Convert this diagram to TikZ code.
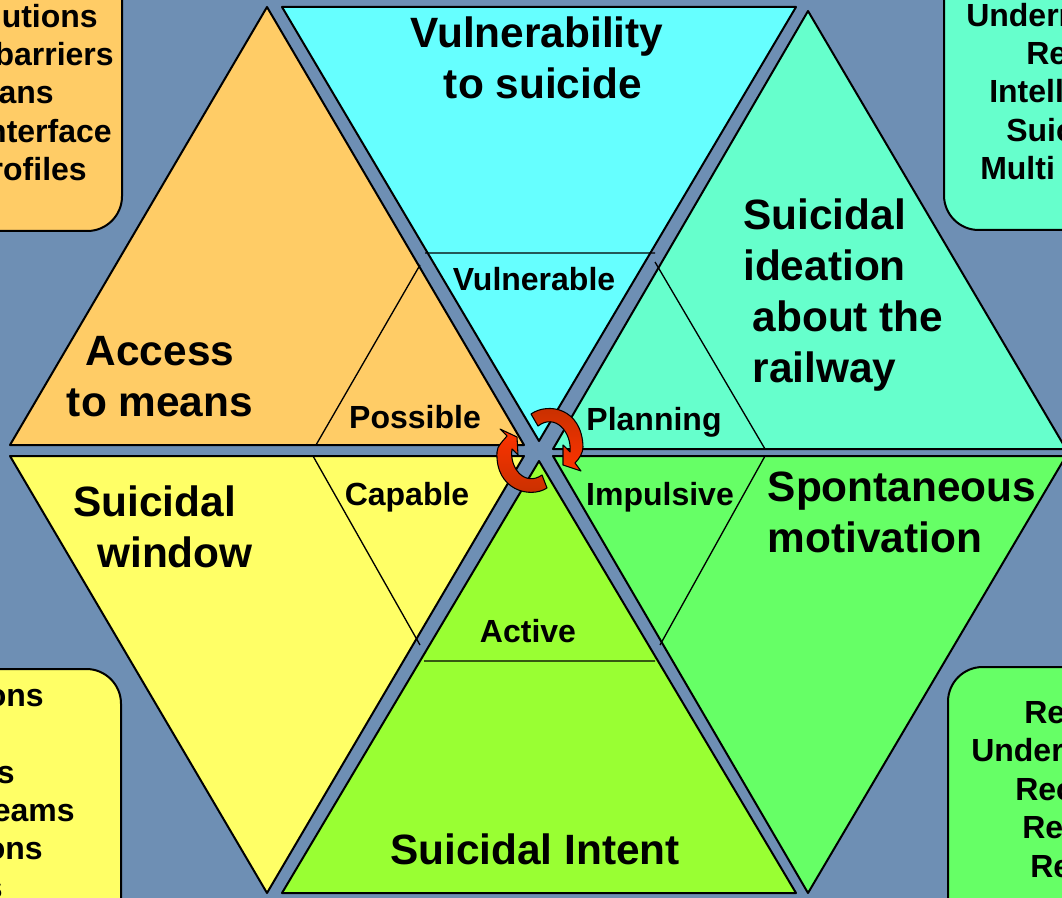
\documentclass[tikz,border=0pt]{standalone}
\usepackage{fontspec}
\setmainfont{Liberation Sans}
\definecolor{bgblue}{HTML}{6E8FB4}
\definecolor{meansc}{HTML}{FFCC66}
\definecolor{vulnc}{HTML}{66FFFF}
\definecolor{ideac}{HTML}{66FFCC}
\definecolor{windowc}{HTML}{FFFF66}
\definecolor{intentc}{HTML}{99FF33}
\definecolor{spontc}{HTML}{66FF66}
\definecolor{cyclec}{HTML}{FF3300}
\definecolor{cycledark}{HTML}{C43000}
\begin{document}
\begin{tikzpicture}
[x = .75pt, y = -.75pt, line join = round,
 tri/.style = {draw, line width = 1.5pt},
 box/.style = {draw, line width = 1.5pt, rounded corners = 26pt},
 big/.style = {font = \fontsize{31.8}{38.2}\bfseries, align = left, inner sep = 0pt},
 small/.style = {font = \fontsize{24}{29}\bfseries},
 side/.style = {font = \fontsize{24}{29}\bfseries, inner sep = 0pt},
 cycle/.style = {draw, line width = .8pt}]
\useasboundingbox (0,0) rectangle (1062,898);
\fill[bgblue] (0,0) rectangle (1062,898);
% side boxes
\draw[box, fill = meansc] (-60,-40) rectangle (122,231);
\draw[box, fill = ideac] (944,-40) rectangle (1120,230);
\draw[box, fill = windowc] (-60,669) rectangle (121,940);
\draw[box, fill = spontc] (948,667) rectangle (1120,940);
% triangles
\draw[tri, fill = meansc] (267,7) -- (524,445) -- (10,445) -- cycle;
\draw[tri, fill = vulnc] (282,7) -- (796,7) -- (539,441) -- cycle;
\draw[tri, fill = ideac] (808,11) -- (1066,449) -- (553,449) -- cycle;
\draw[tri, fill = windowc] (10,456) -- (524,456) -- (267,893) -- cycle;
\draw[tri, fill = intentc] (539,461) -- (796,893) -- (282,893) -- cycle;
\draw[tri, fill = spontc] (553,456) -- (1066,456) -- (808,893) -- cycle;
% inner lines
\draw[line width = 1pt] (420,265) -- (316,445) (425,253) -- (655,253) (655,262) -- (765,449)
      (313,456) -- (420,645) (424,661) -- (655,661) (765,456) -- (660,645);
% turning arrows
\draw[cycle, top color = cycledark, middle color = cyclec, bottom color = cyclec]
      (531,414) .. controls (548,402) and (582,408) .. (583,447)
      .. controls (583,453) and (579,459) .. (575,463) -- (581,471) -- (563,465) -- (563,445)
      -- (570,452) .. controls (572,432) and (555,413) .. (538,426) -- cycle;
\draw[cycle, top color = cyclec, middle color = cyclec, bottom color = cycledark]
      (547,488) .. controls (530,499) and (495,490) .. (497,452)
      .. controls (497,446) and (503,441) .. (507,436) -- (500,429) -- (517,437) -- (518,455)
      -- (512,449) .. controls (509,468) and (525,487) .. (542,475) -- cycle;
% labels
\node[big, align = center] (vuln) at (537,58) {Vulnerability\\\ to suicide};
\node[big, align = center] (means) at (160,377) {Access\\to means};
\node[big, anchor = west] (idea) at (743,295) {Suicidal\\ideation\\\hspace*{7pt}about the\\\hspace*{7pt}railway};
\node[big, anchor = west] (window) at (73,527) {Suicidal\\\hspace*{18pt}window};
\node[big] (spont) at (902,512) {Spontaneous\\motivation};
\node[big] (intent) at (535,849) {Suicidal Intent};
\node[small] (vulnerable) at (534,279) {Vulnerable};
\node[small] (possible) at (415,417) {Possible};
\node[small] (planning) at (654,422) {Planning};
\node[small] (capable) at (407,497) {Capable};
\node[small] (impulsive) at (660,497) {Impulsive};
\node[small] (active) at (528,631) {Active};
% cut off box texts, one line at a time
\foreach \boxtext/\xend/\ybase [count = \n] in {lutions/98/28, barriers/114/66, ans/54/104, nterface/112/143, rofiles/87/181}
  \node[side, anchor = base east] (meansline\n) at (\xend,\ybase) {\boxtext};
\foreach \boxtext/\xstart/\ybase [count = \n] in {Underr/966/27, Re/1026/65, Intell/989/103, Suic/1006/142, Multi/980/180}
  \node[side, anchor = base west] (idealine\n) at (\xstart,\ybase) {\boxtext};
\foreach \boxtext/\xend/\ybase [count = \n] in {ons/44/706, s/15/783, eams/75/821, ons/43/859, s/3/898}
  \node[side, anchor = base east] (windowline\n) at (\xend,\ybase) {\boxtext};
\foreach \boxtext/\xstart/\ybase [count = \n] in {Re/1024/723, Under/971/761, Rec/1015/800, Re/1022/838, Re/1030/877}
  \node[side, anchor = base west] (spontline\n) at (\xstart,\ybase) {\boxtext};
\end{tikzpicture}
\end{document}
